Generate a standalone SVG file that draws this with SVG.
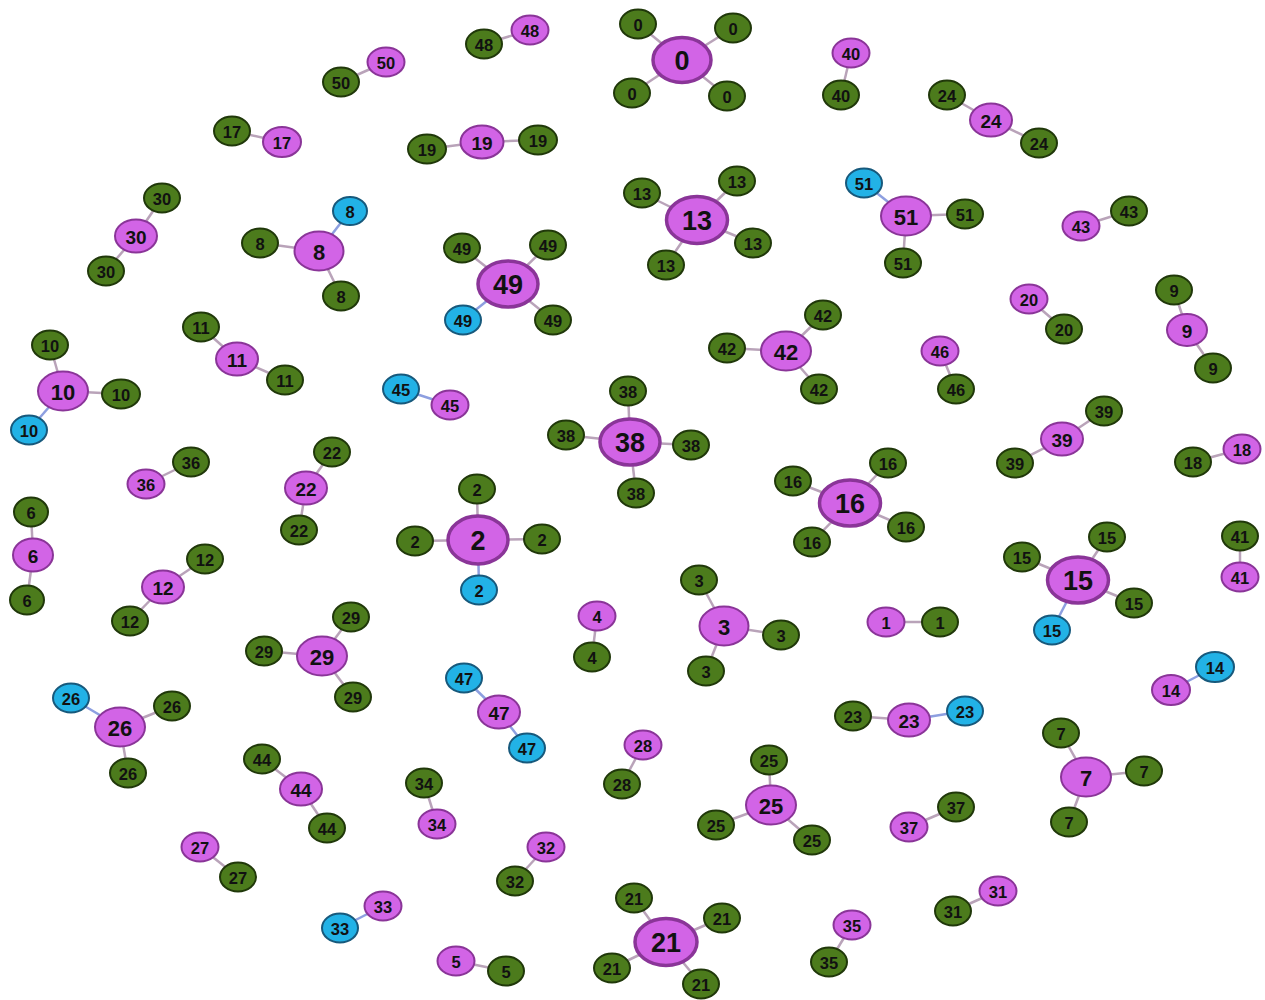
<svg xmlns="http://www.w3.org/2000/svg" width="1265" height="1000" viewBox="0 0 1265 1000">
<style>
.e{stroke:#b9a3b9;stroke-width:2.5}
.eb{stroke:#8d9fe0;stroke-width:2.5}
.g{fill:#4c7b1c;stroke:#20380a;stroke-width:2}
.m{fill:#d264e6;stroke:#8a3598;stroke-width:2}
.mh{fill:#d264e6;stroke:#8a3598;stroke-width:3.5}
.b{fill:#22b2e6;stroke:#17597c;stroke-width:2}
text{font-family:"Liberation Sans",Arial,sans-serif;font-weight:bold;fill:#111;text-anchor:middle;dominant-baseline:central}
.t{font-size:16.5px}
.tm{font-size:19px}
.th{font-size:22px}
.tb{font-size:27px}
</style>
<rect width="1265" height="1000" fill="#fff"/>
<g id="connectors">
<line class="e" x1="682" y1="60" x2="638" y2="24"/><line class="e" x1="682" y1="60" x2="733" y2="28"/><line class="e" x1="682" y1="60" x2="632" y2="93"/><line class="e" x1="682" y1="60" x2="727" y2="96"/>
<line class="e" x1="484" y1="44" x2="530" y2="30"/>
<line class="e" x1="341" y1="82" x2="386" y2="62"/>
<line class="e" x1="232" y1="131" x2="282" y2="142"/>
<line class="e" x1="427" y1="149" x2="482" y2="142"/><line class="e" x1="482" y1="142" x2="538" y2="140"/>
<line class="e" x1="851" y1="53" x2="841" y2="95"/>
<line class="e" x1="947" y1="95" x2="991" y2="120"/><line class="e" x1="991" y1="120" x2="1039" y2="143"/>
<line class="e" x1="162" y1="198" x2="136" y2="236"/><line class="e" x1="136" y1="236" x2="106" y2="271"/>
<line class="eb" x1="319" y1="251" x2="350" y2="211"/><line class="e" x1="319" y1="251" x2="260" y2="243"/><line class="e" x1="319" y1="251" x2="341" y2="296"/>
<line class="e" x1="508" y1="284" x2="462" y2="248"/><line class="e" x1="508" y1="284" x2="548" y2="245"/><line class="eb" x1="508" y1="284" x2="463" y2="320"/><line class="e" x1="508" y1="284" x2="553" y2="320"/>
<line class="e" x1="697" y1="220" x2="642" y2="193"/><line class="e" x1="697" y1="220" x2="737" y2="181"/><line class="e" x1="697" y1="220" x2="753" y2="243"/><line class="e" x1="697" y1="220" x2="666" y2="265"/>
<line class="eb" x1="906" y1="216" x2="864" y2="183"/><line class="e" x1="906" y1="216" x2="965" y2="214"/><line class="e" x1="906" y1="216" x2="903" y2="263"/>
<line class="e" x1="1081" y1="226" x2="1129" y2="211"/>
<line class="e" x1="1174" y1="290" x2="1187" y2="330"/><line class="e" x1="1187" y1="330" x2="1213" y2="368"/>
<line class="e" x1="1029" y1="299" x2="1064" y2="329"/>
<line class="e" x1="786" y1="351" x2="823" y2="315"/><line class="e" x1="786" y1="351" x2="727" y2="348"/><line class="e" x1="786" y1="351" x2="819" y2="389"/>
<line class="e" x1="940" y1="351" x2="956" y2="389"/>
<line class="e" x1="63" y1="391" x2="50" y2="345"/><line class="e" x1="63" y1="391" x2="121" y2="394"/><line class="eb" x1="63" y1="391" x2="29" y2="430"/>
<line class="e" x1="201" y1="327" x2="237" y2="359"/><line class="e" x1="237" y1="359" x2="285" y2="380"/>
<line class="eb" x1="401" y1="389" x2="450" y2="405"/>
<line class="e" x1="630" y1="442" x2="628" y2="391"/><line class="e" x1="630" y1="442" x2="566" y2="435"/><line class="e" x1="630" y1="442" x2="691" y2="445"/><line class="e" x1="630" y1="442" x2="636" y2="493"/>
<line class="e" x1="1104" y1="411" x2="1062" y2="439"/><line class="e" x1="1062" y1="439" x2="1015" y2="463"/>
<line class="e" x1="1193" y1="462" x2="1242" y2="449"/>
<line class="e" x1="191" y1="462" x2="146" y2="484"/>
<line class="e" x1="332" y1="452" x2="306" y2="488"/><line class="e" x1="306" y1="488" x2="299" y2="530"/>
<line class="e" x1="850" y1="503" x2="793" y2="481"/><line class="e" x1="850" y1="503" x2="888" y2="463"/><line class="e" x1="850" y1="503" x2="906" y2="527"/><line class="e" x1="850" y1="503" x2="812" y2="542"/>
<line class="e" x1="478" y1="540" x2="477" y2="489"/><line class="e" x1="478" y1="540" x2="415" y2="541"/><line class="e" x1="478" y1="540" x2="542" y2="539"/><line class="eb" x1="478" y1="540" x2="479" y2="590"/>
<line class="e" x1="31" y1="512" x2="33" y2="555"/><line class="e" x1="33" y1="555" x2="27" y2="600"/>
<line class="e" x1="205" y1="559" x2="163" y2="587"/><line class="e" x1="163" y1="587" x2="130" y2="621"/>
<line class="e" x1="1078" y1="580" x2="1022" y2="557"/><line class="e" x1="1078" y1="580" x2="1107" y2="537"/><line class="e" x1="1078" y1="580" x2="1134" y2="603"/><line class="eb" x1="1078" y1="580" x2="1052" y2="630"/>
<line class="e" x1="1240" y1="536" x2="1240" y2="577"/>
<line class="e" x1="597" y1="616" x2="592" y2="657"/>
<line class="e" x1="724" y1="626" x2="699" y2="580"/><line class="e" x1="724" y1="626" x2="781" y2="635"/><line class="e" x1="724" y1="626" x2="706" y2="671"/>
<line class="e" x1="886" y1="622" x2="940" y2="622"/>
<line class="e" x1="322" y1="656" x2="351" y2="617"/><line class="e" x1="322" y1="656" x2="264" y2="651"/><line class="e" x1="322" y1="656" x2="353" y2="697"/>
<line class="eb" x1="120" y1="727" x2="71" y2="698"/><line class="e" x1="120" y1="727" x2="172" y2="706"/><line class="e" x1="120" y1="727" x2="128" y2="773"/>
<line class="eb" x1="464" y1="678" x2="499" y2="712"/><line class="eb" x1="499" y1="712" x2="527" y2="748"/>
<line class="eb" x1="1215" y1="667" x2="1171" y2="690"/>
<line class="e" x1="853" y1="716" x2="909" y2="720"/><line class="eb" x1="909" y1="720" x2="965" y2="711"/>
<line class="e" x1="1086" y1="777" x2="1061" y2="733"/><line class="e" x1="1086" y1="777" x2="1144" y2="771"/><line class="e" x1="1086" y1="777" x2="1069" y2="822"/>
<line class="e" x1="643" y1="745" x2="622" y2="784"/>
<line class="e" x1="771" y1="805" x2="769" y2="760"/><line class="e" x1="771" y1="805" x2="716" y2="825"/><line class="e" x1="771" y1="805" x2="812" y2="840"/>
<line class="e" x1="262" y1="759" x2="301" y2="789"/><line class="e" x1="301" y1="789" x2="327" y2="828"/>
<line class="e" x1="424" y1="783" x2="437" y2="824"/>
<line class="e" x1="956" y1="807" x2="909" y2="827"/>
<line class="e" x1="200" y1="847" x2="238" y2="877"/>
<line class="e" x1="546" y1="847" x2="515" y2="881"/>
<line class="e" x1="998" y1="891" x2="953" y2="911"/>
<line class="eb" x1="383" y1="906" x2="340" y2="928"/>
<line class="e" x1="666" y1="942" x2="634" y2="898"/><line class="e" x1="666" y1="942" x2="722" y2="918"/><line class="e" x1="666" y1="942" x2="612" y2="968"/><line class="e" x1="666" y1="942" x2="701" y2="984"/>
<line class="e" x1="852" y1="925" x2="829" y2="962"/>
<line class="e" x1="456" y1="961" x2="506" y2="971"/>
</g>
<g id="c0">
<g id="n0a"><ellipse class="g" cx="638" cy="24" rx="18" ry="14.5"/><text class="t" x="638" y="25">0</text></g>
<g id="n0b"><ellipse class="g" cx="733" cy="28" rx="18" ry="14.5"/><text class="t" x="733" y="29">0</text></g>
<g id="n0c"><ellipse class="g" cx="632" cy="93" rx="18" ry="14.5"/><text class="t" x="632" y="94">0</text></g>
<g id="n0d"><ellipse class="g" cx="727" cy="96" rx="18" ry="14.5"/><text class="t" x="727" y="97">0</text></g>
<g id="n0"><ellipse class="mh" cx="682" cy="60" rx="29" ry="22.5"/><text class="tb" x="682" y="61">0</text></g>
</g>
<g id="c48"><g id="n48a"><ellipse class="g" cx="484" cy="44" rx="18" ry="14.5"/><text class="t" x="484" y="45">48</text></g><g id="n48"><ellipse class="m" cx="530" cy="30" rx="18.5" ry="14.5"/><text class="t" x="530" y="31">48</text></g></g>
<g id="c50"><g id="n50a"><ellipse class="g" cx="341" cy="82" rx="18" ry="14.5"/><text class="t" x="341" y="83">50</text></g><g id="n50"><ellipse class="m" cx="386" cy="62" rx="18.5" ry="14.5"/><text class="t" x="386" y="63">50</text></g></g>
<g id="c17"><g id="n17a"><ellipse class="g" cx="232" cy="131" rx="18" ry="14.5"/><text class="t" x="232" y="132">17</text></g><g id="n17"><ellipse class="m" cx="282" cy="142" rx="19" ry="15"/><text class="t" x="282" y="143">17</text></g></g>
<g id="c19"><g id="n19a"><ellipse class="g" cx="427" cy="149" rx="19" ry="14.5"/><text class="t" x="427" y="150">19</text></g><g id="n19b"><ellipse class="g" cx="538" cy="140" rx="19" ry="14.5"/><text class="t" x="538" y="141">19</text></g><g id="n19"><ellipse class="m" cx="482" cy="142" rx="21.5" ry="16.5"/><text class="tm" x="482" y="143">19</text></g></g>
<g id="c40"><g id="n40"><ellipse class="m" cx="851" cy="53" rx="18.5" ry="14.5"/><text class="t" x="851" y="54">40</text></g><g id="n40a"><ellipse class="g" cx="841" cy="95" rx="18" ry="14.5"/><text class="t" x="841" y="96">40</text></g></g>
<g id="c24"><g id="n24a"><ellipse class="g" cx="947" cy="95" rx="18" ry="14.5"/><text class="t" x="947" y="96">24</text></g><g id="n24b"><ellipse class="g" cx="1039" cy="143" rx="18" ry="14.5"/><text class="t" x="1039" y="144">24</text></g><g id="n24"><ellipse class="m" cx="991" cy="120" rx="21" ry="16.5"/><text class="tm" x="991" y="121">24</text></g></g>
<g id="c30"><g id="n30a"><ellipse class="g" cx="162" cy="198" rx="18" ry="14.5"/><text class="t" x="162" y="199">30</text></g><g id="n30b"><ellipse class="g" cx="106" cy="271" rx="18" ry="14.5"/><text class="t" x="106" y="272">30</text></g><g id="n30"><ellipse class="m" cx="136" cy="236" rx="21" ry="16.5"/><text class="tm" x="136" y="237">30</text></g></g>
<g id="c8"><g id="n8b"><ellipse class="b" cx="350" cy="211" rx="17" ry="14"/><text class="t" x="350" y="212">8</text></g><g id="n8a"><ellipse class="g" cx="260" cy="243" rx="18" ry="14.5"/><text class="t" x="260" y="244">8</text></g><g id="n8c"><ellipse class="g" cx="341" cy="296" rx="18" ry="14.5"/><text class="t" x="341" y="297">8</text></g><g id="n8"><ellipse class="m" cx="319" cy="251" rx="24.5" ry="19.5"/><text class="th" x="319" y="252">8</text></g></g>
<g id="c49"><g id="n49a"><ellipse class="g" cx="462" cy="248" rx="18" ry="14.5"/><text class="t" x="462" y="249">49</text></g><g id="n49b"><ellipse class="g" cx="548" cy="245" rx="18" ry="14.5"/><text class="t" x="548" y="246">49</text></g><g id="n49c"><ellipse class="b" cx="463" cy="320" rx="18" ry="14.5"/><text class="t" x="463" y="321">49</text></g><g id="n49d"><ellipse class="g" cx="553" cy="320" rx="18" ry="14.5"/><text class="t" x="553" y="321">49</text></g><g id="n49"><ellipse class="mh" cx="508" cy="284" rx="30" ry="23"/><text class="tb" x="508" y="285">49</text></g></g>
<g id="c13"><g id="n13a"><ellipse class="g" cx="642" cy="193" rx="18" ry="14.5"/><text class="t" x="642" y="194">13</text></g><g id="n13b"><ellipse class="g" cx="737" cy="181" rx="18" ry="14.5"/><text class="t" x="737" y="182">13</text></g><g id="n13c"><ellipse class="g" cx="753" cy="243" rx="18" ry="14.5"/><text class="t" x="753" y="244">13</text></g><g id="n13d"><ellipse class="g" cx="666" cy="265" rx="18" ry="14.5"/><text class="t" x="666" y="266">13</text></g><g id="n13"><ellipse class="mh" cx="697" cy="220" rx="30.5" ry="23.5"/><text class="tb" x="697" y="221">13</text></g></g>
<g id="c51"><g id="n51b"><ellipse class="b" cx="864" cy="183" rx="18" ry="14.5"/><text class="t" x="864" y="184">51</text></g><g id="n51a"><ellipse class="g" cx="965" cy="214" rx="18" ry="14.5"/><text class="t" x="965" y="215">51</text></g><g id="n51c"><ellipse class="g" cx="903" cy="263" rx="18" ry="14.5"/><text class="t" x="903" y="264">51</text></g><g id="n51"><ellipse class="m" cx="906" cy="216" rx="25" ry="19.5"/><text class="th" x="906" y="217">51</text></g></g>
<g id="c43"><g id="n43"><ellipse class="m" cx="1081" cy="226" rx="18.5" ry="14.5"/><text class="t" x="1081" y="227">43</text></g><g id="n43a"><ellipse class="g" cx="1129" cy="211" rx="18" ry="14.5"/><text class="t" x="1129" y="212">43</text></g></g>
<g id="c9"><g id="n9a"><ellipse class="g" cx="1174" cy="290" rx="18" ry="14.5"/><text class="t" x="1174" y="291">9</text></g><g id="n9b"><ellipse class="g" cx="1213" cy="368" rx="18" ry="14.5"/><text class="t" x="1213" y="369">9</text></g><g id="n9"><ellipse class="m" cx="1187" cy="330" rx="20" ry="16"/><text class="tm" x="1187" y="331">9</text></g></g>
<g id="c20"><g id="n20"><ellipse class="m" cx="1029" cy="299" rx="18.5" ry="14.5"/><text class="t" x="1029" y="300">20</text></g><g id="n20a"><ellipse class="g" cx="1064" cy="329" rx="18" ry="14.5"/><text class="t" x="1064" y="330">20</text></g></g>
<g id="c42"><g id="n42a"><ellipse class="g" cx="823" cy="315" rx="18" ry="14.5"/><text class="t" x="823" y="316">42</text></g><g id="n42b"><ellipse class="g" cx="727" cy="348" rx="18" ry="14.5"/><text class="t" x="727" y="349">42</text></g><g id="n42c"><ellipse class="g" cx="819" cy="389" rx="18" ry="14.5"/><text class="t" x="819" y="390">42</text></g><g id="n42"><ellipse class="m" cx="786" cy="351" rx="25" ry="19.5"/><text class="th" x="786" y="352">42</text></g></g>
<g id="c46"><g id="n46"><ellipse class="m" cx="940" cy="351" rx="18.5" ry="14.5"/><text class="t" x="940" y="352">46</text></g><g id="n46a"><ellipse class="g" cx="956" cy="389" rx="18" ry="14.5"/><text class="t" x="956" y="390">46</text></g></g>
<g id="c10"><g id="n10a"><ellipse class="g" cx="50" cy="345" rx="18" ry="14.5"/><text class="t" x="50" y="346">10</text></g><g id="n10b"><ellipse class="g" cx="121" cy="394" rx="19" ry="14.5"/><text class="t" x="121" y="395">10</text></g><g id="n10c"><ellipse class="b" cx="29" cy="430" rx="18" ry="14.5"/><text class="t" x="29" y="431">10</text></g><g id="n10"><ellipse class="m" cx="63" cy="391" rx="25" ry="19.5"/><text class="th" x="63" y="392">10</text></g></g>
<g id="c11"><g id="n11a"><ellipse class="g" cx="201" cy="327" rx="18" ry="14.5"/><text class="t" x="201" y="328">11</text></g><g id="n11b"><ellipse class="g" cx="285" cy="380" rx="18" ry="14.5"/><text class="t" x="285" y="381">11</text></g><g id="n11"><ellipse class="m" cx="237" cy="359" rx="21" ry="16.5"/><text class="tm" x="237" y="360">11</text></g></g>
<g id="c45"><g id="n45a"><ellipse class="b" cx="401" cy="389" rx="18" ry="14.5"/><text class="t" x="401" y="390">45</text></g><g id="n45"><ellipse class="m" cx="450" cy="405" rx="18.5" ry="14.5"/><text class="t" x="450" y="406">45</text></g></g>
<g id="c38"><g id="n38a"><ellipse class="g" cx="628" cy="391" rx="18" ry="14.5"/><text class="t" x="628" y="392">38</text></g><g id="n38b"><ellipse class="g" cx="566" cy="435" rx="18" ry="14.5"/><text class="t" x="566" y="436">38</text></g><g id="n38c"><ellipse class="g" cx="691" cy="445" rx="18" ry="14.5"/><text class="t" x="691" y="446">38</text></g><g id="n38d"><ellipse class="g" cx="636" cy="493" rx="18" ry="14.5"/><text class="t" x="636" y="494">38</text></g><g id="n38"><ellipse class="mh" cx="630" cy="442" rx="30" ry="23"/><text class="tb" x="630" y="443">38</text></g></g>
<g id="c39"><g id="n39a"><ellipse class="g" cx="1104" cy="411" rx="18" ry="14.5"/><text class="t" x="1104" y="412">39</text></g><g id="n39b"><ellipse class="g" cx="1015" cy="463" rx="18" ry="14.5"/><text class="t" x="1015" y="464">39</text></g><g id="n39"><ellipse class="m" cx="1062" cy="439" rx="21" ry="16.5"/><text class="tm" x="1062" y="440">39</text></g></g>
<g id="c18"><g id="n18a"><ellipse class="g" cx="1193" cy="462" rx="18" ry="14.5"/><text class="t" x="1193" y="463">18</text></g><g id="n18"><ellipse class="m" cx="1242" cy="449" rx="18.5" ry="14.5"/><text class="t" x="1242" y="450">18</text></g></g>
<g id="c36"><g id="n36a"><ellipse class="g" cx="191" cy="462" rx="18" ry="14.5"/><text class="t" x="191" y="463">36</text></g><g id="n36"><ellipse class="m" cx="146" cy="484" rx="18.5" ry="14.5"/><text class="t" x="146" y="485">36</text></g></g>
<g id="c22"><g id="n22a"><ellipse class="g" cx="332" cy="452" rx="18" ry="14.5"/><text class="t" x="332" y="453">22</text></g><g id="n22b"><ellipse class="g" cx="299" cy="530" rx="18" ry="14.5"/><text class="t" x="299" y="531">22</text></g><g id="n22"><ellipse class="m" cx="306" cy="488" rx="21" ry="16.5"/><text class="tm" x="306" y="489">22</text></g></g>
<g id="c16"><g id="n16a"><ellipse class="g" cx="793" cy="481" rx="18" ry="14.5"/><text class="t" x="793" y="482">16</text></g><g id="n16b"><ellipse class="g" cx="888" cy="463" rx="18" ry="14.5"/><text class="t" x="888" y="464">16</text></g><g id="n16c"><ellipse class="g" cx="906" cy="527" rx="18" ry="14.5"/><text class="t" x="906" y="528">16</text></g><g id="n16d"><ellipse class="g" cx="812" cy="542" rx="18" ry="14.5"/><text class="t" x="812" y="543">16</text></g><g id="n16"><ellipse class="mh" cx="850" cy="503" rx="30.5" ry="23"/><text class="tb" x="850" y="504">16</text></g></g>
<g id="c2"><g id="n2a"><ellipse class="g" cx="477" cy="489" rx="18" ry="14.5"/><text class="t" x="477" y="490">2</text></g><g id="n2b"><ellipse class="g" cx="415" cy="541" rx="18" ry="14.5"/><text class="t" x="415" y="542">2</text></g><g id="n2c"><ellipse class="g" cx="542" cy="539" rx="18" ry="14.5"/><text class="t" x="542" y="540">2</text></g><g id="n2d"><ellipse class="b" cx="479" cy="590" rx="18" ry="14.5"/><text class="t" x="479" y="591">2</text></g><g id="n2"><ellipse class="mh" cx="478" cy="540" rx="30" ry="24"/><text class="tb" x="478" y="541">2</text></g></g>
<g id="c6"><g id="n6a"><ellipse class="g" cx="31" cy="512" rx="17" ry="14.5"/><text class="t" x="31" y="513">6</text></g><g id="n6b"><ellipse class="g" cx="27" cy="600" rx="17" ry="14.5"/><text class="t" x="27" y="601">6</text></g><g id="n6"><ellipse class="m" cx="33" cy="555" rx="20" ry="16.5"/><text class="tm" x="33" y="556">6</text></g></g>
<g id="c12"><g id="n12a"><ellipse class="g" cx="205" cy="559" rx="18" ry="14.5"/><text class="t" x="205" y="560">12</text></g><g id="n12b"><ellipse class="g" cx="130" cy="621" rx="18" ry="14.5"/><text class="t" x="130" y="622">12</text></g><g id="n12"><ellipse class="m" cx="163" cy="587" rx="21" ry="16.5"/><text class="tm" x="163" y="588">12</text></g></g>
<g id="c15"><g id="n15a"><ellipse class="g" cx="1022" cy="557" rx="18" ry="14.5"/><text class="t" x="1022" y="558">15</text></g><g id="n15b"><ellipse class="g" cx="1107" cy="537" rx="18" ry="14.5"/><text class="t" x="1107" y="538">15</text></g><g id="n15c"><ellipse class="g" cx="1134" cy="603" rx="18" ry="14.5"/><text class="t" x="1134" y="604">15</text></g><g id="n15d"><ellipse class="b" cx="1052" cy="630" rx="18" ry="14.5"/><text class="t" x="1052" y="631">15</text></g><g id="n15"><ellipse class="mh" cx="1078" cy="580" rx="30.5" ry="23"/><text class="tb" x="1078" y="581">15</text></g></g>
<g id="c41"><g id="n41a"><ellipse class="g" cx="1240" cy="536" rx="18" ry="14.5"/><text class="t" x="1240" y="537">41</text></g><g id="n41"><ellipse class="m" cx="1240" cy="577" rx="18.5" ry="14.5"/><text class="t" x="1240" y="578">41</text></g></g>
<g id="c4"><g id="n4"><ellipse class="m" cx="597" cy="616" rx="18.5" ry="14.5"/><text class="t" x="597" y="617">4</text></g><g id="n4a"><ellipse class="g" cx="592" cy="657" rx="18" ry="14.5"/><text class="t" x="592" y="658">4</text></g></g>
<g id="c3"><g id="n3a"><ellipse class="g" cx="699" cy="580" rx="18" ry="14.5"/><text class="t" x="699" y="581">3</text></g><g id="n3b"><ellipse class="g" cx="781" cy="635" rx="18" ry="14.5"/><text class="t" x="781" y="636">3</text></g><g id="n3c"><ellipse class="g" cx="706" cy="671" rx="18" ry="14.5"/><text class="t" x="706" y="672">3</text></g><g id="n3"><ellipse class="m" cx="724" cy="626" rx="24.5" ry="19.5"/><text class="th" x="724" y="627">3</text></g></g>
<g id="c1"><g id="n1"><ellipse class="m" cx="886" cy="622" rx="18.5" ry="14.5"/><text class="t" x="886" y="623">1</text></g><g id="n1a"><ellipse class="g" cx="940" cy="622" rx="18" ry="14.5"/><text class="t" x="940" y="623">1</text></g></g>
<g id="c29"><g id="n29a"><ellipse class="g" cx="351" cy="617" rx="18" ry="14.5"/><text class="t" x="351" y="618">29</text></g><g id="n29b"><ellipse class="g" cx="264" cy="651" rx="18" ry="14.5"/><text class="t" x="264" y="652">29</text></g><g id="n29c"><ellipse class="g" cx="353" cy="697" rx="18" ry="14.5"/><text class="t" x="353" y="698">29</text></g><g id="n29"><ellipse class="m" cx="322" cy="656" rx="25" ry="19.5"/><text class="th" x="322" y="657">29</text></g></g>
<g id="c26"><g id="n26a"><ellipse class="b" cx="71" cy="698" rx="18" ry="14.5"/><text class="t" x="71" y="699">26</text></g><g id="n26b"><ellipse class="g" cx="172" cy="706" rx="18" ry="14.5"/><text class="t" x="172" y="707">26</text></g><g id="n26c"><ellipse class="g" cx="128" cy="773" rx="18" ry="14.5"/><text class="t" x="128" y="774">26</text></g><g id="n26"><ellipse class="m" cx="120" cy="727" rx="25" ry="19.5"/><text class="th" x="120" y="728">26</text></g></g>
<g id="c47"><g id="n47a"><ellipse class="b" cx="464" cy="678" rx="18" ry="14.5"/><text class="t" x="464" y="679">47</text></g><g id="n47b"><ellipse class="b" cx="527" cy="748" rx="18" ry="14.5"/><text class="t" x="527" y="749">47</text></g><g id="n47"><ellipse class="m" cx="499" cy="712" rx="21" ry="16.5"/><text class="tm" x="499" y="713">47</text></g></g>
<g id="c14"><g id="n14a"><ellipse class="b" cx="1215" cy="667" rx="19" ry="15"/><text class="t" x="1215" y="668">14</text></g><g id="n14"><ellipse class="m" cx="1171" cy="690" rx="19" ry="15"/><text class="t" x="1171" y="691">14</text></g></g>
<g id="c23"><g id="n23a"><ellipse class="g" cx="853" cy="716" rx="18" ry="14.5"/><text class="t" x="853" y="717">23</text></g><g id="n23b"><ellipse class="b" cx="965" cy="711" rx="18" ry="14.5"/><text class="t" x="965" y="712">23</text></g><g id="n23"><ellipse class="m" cx="909" cy="720" rx="21" ry="16.5"/><text class="tm" x="909" y="721">23</text></g></g>
<g id="c7"><g id="n7a"><ellipse class="g" cx="1061" cy="733" rx="18" ry="14.5"/><text class="t" x="1061" y="734">7</text></g><g id="n7b"><ellipse class="g" cx="1144" cy="771" rx="18" ry="14.5"/><text class="t" x="1144" y="772">7</text></g><g id="n7c"><ellipse class="g" cx="1069" cy="822" rx="18" ry="14.5"/><text class="t" x="1069" y="823">7</text></g><g id="n7"><ellipse class="m" cx="1086" cy="777" rx="25" ry="19.5"/><text class="th" x="1086" y="778">7</text></g></g>
<g id="c28"><g id="n28"><ellipse class="m" cx="643" cy="745" rx="18.5" ry="14.5"/><text class="t" x="643" y="746">28</text></g><g id="n28a"><ellipse class="g" cx="622" cy="784" rx="18" ry="14.5"/><text class="t" x="622" y="785">28</text></g></g>
<g id="c25"><g id="n25a"><ellipse class="g" cx="769" cy="760" rx="18" ry="14.5"/><text class="t" x="769" y="761">25</text></g><g id="n25b"><ellipse class="g" cx="716" cy="825" rx="18" ry="14.5"/><text class="t" x="716" y="826">25</text></g><g id="n25c"><ellipse class="g" cx="812" cy="840" rx="18" ry="14.5"/><text class="t" x="812" y="841">25</text></g><g id="n25"><ellipse class="m" cx="771" cy="805" rx="25" ry="19.5"/><text class="th" x="771" y="806">25</text></g></g>
<g id="c44"><g id="n44a"><ellipse class="g" cx="262" cy="759" rx="18" ry="14.5"/><text class="t" x="262" y="760">44</text></g><g id="n44b"><ellipse class="g" cx="327" cy="828" rx="18" ry="14.5"/><text class="t" x="327" y="829">44</text></g><g id="n44"><ellipse class="m" cx="301" cy="789" rx="21" ry="16.5"/><text class="tm" x="301" y="790">44</text></g></g>
<g id="c34"><g id="n34a"><ellipse class="g" cx="424" cy="783" rx="18" ry="14.5"/><text class="t" x="424" y="784">34</text></g><g id="n34"><ellipse class="m" cx="437" cy="824" rx="18.5" ry="14.5"/><text class="t" x="437" y="825">34</text></g></g>
<g id="c37"><g id="n37a"><ellipse class="g" cx="956" cy="807" rx="18" ry="14.5"/><text class="t" x="956" y="808">37</text></g><g id="n37"><ellipse class="m" cx="909" cy="827" rx="18.5" ry="14.5"/><text class="t" x="909" y="828">37</text></g></g>
<g id="c27"><g id="n27"><ellipse class="m" cx="200" cy="847" rx="18.5" ry="14.5"/><text class="t" x="200" y="848">27</text></g><g id="n27a"><ellipse class="g" cx="238" cy="877" rx="18" ry="14.5"/><text class="t" x="238" y="878">27</text></g></g>
<g id="c32"><g id="n32"><ellipse class="m" cx="546" cy="847" rx="18.5" ry="14.5"/><text class="t" x="546" y="848">32</text></g><g id="n32a"><ellipse class="g" cx="515" cy="881" rx="18" ry="14.5"/><text class="t" x="515" y="882">32</text></g></g>
<g id="c31"><g id="n31"><ellipse class="m" cx="998" cy="891" rx="18.5" ry="14.5"/><text class="t" x="998" y="892">31</text></g><g id="n31a"><ellipse class="g" cx="953" cy="911" rx="18" ry="14.5"/><text class="t" x="953" y="912">31</text></g></g>
<g id="c33"><g id="n33"><ellipse class="m" cx="383" cy="906" rx="18.5" ry="14.5"/><text class="t" x="383" y="907">33</text></g><g id="n33a"><ellipse class="b" cx="340" cy="928" rx="18" ry="14.5"/><text class="t" x="340" y="929">33</text></g></g>
<g id="c21"><g id="n21a"><ellipse class="g" cx="634" cy="898" rx="18" ry="14.5"/><text class="t" x="634" y="899">21</text></g><g id="n21b"><ellipse class="g" cx="722" cy="918" rx="18" ry="14.5"/><text class="t" x="722" y="919">21</text></g><g id="n21c"><ellipse class="g" cx="612" cy="968" rx="18" ry="14.5"/><text class="t" x="612" y="969">21</text></g><g id="n21d"><ellipse class="g" cx="701" cy="984" rx="18" ry="14.5"/><text class="t" x="701" y="985">21</text></g><g id="n21"><ellipse class="mh" cx="666" cy="942" rx="31" ry="23.5"/><text class="tb" x="666" y="943">21</text></g></g>
<g id="c35"><g id="n35"><ellipse class="m" cx="852" cy="925" rx="18.5" ry="14.5"/><text class="t" x="852" y="926">35</text></g><g id="n35a"><ellipse class="g" cx="829" cy="962" rx="18" ry="14.5"/><text class="t" x="829" y="963">35</text></g></g>
<g id="c5"><g id="n5"><ellipse class="m" cx="456" cy="961" rx="18.5" ry="14.5"/><text class="t" x="456" y="962">5</text></g><g id="n5a"><ellipse class="g" cx="506" cy="971" rx="18" ry="14.5"/><text class="t" x="506" y="972">5</text></g></g>
</svg>
